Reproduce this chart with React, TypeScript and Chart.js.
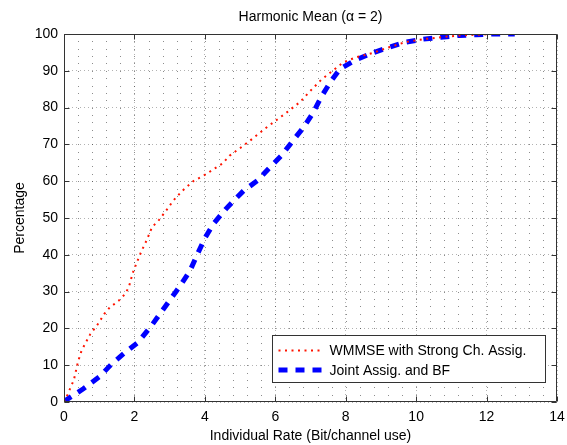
import React, { useEffect, useRef } from "react";
import { Chart, registerables } from "chart.js";

Chart.register(...registerables);

const TITLE = "Harmonic Mean (\u03B1 = 2)";
const X_LABEL = "Individual Rate (Bit/channel use)";
const Y_LABEL = "Percentage";
const SERIES_NAMES = ["WMMSE with Strong Ch. Assig.", "Joint Assig. and BF"];

const X_MAJOR = [0, 2, 4, 6, 8, 10, 12, 14];
const Y_MAJOR = [0, 10, 20, 30, 40, 50, 60, 70, 80, 90, 100];

const wmmseX = [0, 0.1, 0.28, 0.4, 0.5, 0.75, 0.95, 1.15, 1.3, 1.55, 1.75, 1.85, 1.95, 2.05, 2.2, 2.35, 2.5, 2.7, 2.9, 3.1, 3.35, 3.67, 4.05, 4.25, 4.5, 4.7, 5.0, 5.28, 5.75, 6.3, 6.7, 7.0, 7.3, 7.6, 7.93, 8.3, 8.75, 9.2, 9.7, 10.2, 10.7, 11.2, 11.7, 12.2, 12.6];
const wmmseY = [0, 2, 6, 11, 14, 18.5, 21, 24, 25.7, 27.5, 29.5, 31.5, 35, 37.5, 41, 44, 47.5, 49.5, 52, 54.7, 57.3, 60, 62, 63.3, 64.8, 66.9, 69, 71, 74.6, 78.5, 81.5, 84.6, 87.5, 89.8, 92.3, 93.7, 94.8, 96.3, 97.8, 98.6, 99.1, 99.6, 99.8, 100, 100];

const jointX = [0, 0.1, 0.55, 1.0, 1.36, 1.74, 2.1, 2.45, 2.73, 3.0, 3.3, 3.58, 3.78, 4.0, 4.25, 4.6, 4.85, 5.1, 5.5, 5.85, 6.18, 6.5, 6.8, 7.08, 7.3, 7.56, 7.84, 8.27, 8.74, 9.2, 9.7, 10.2, 10.7, 11.2, 11.7, 12.2, 12.8];
const jointY = [0, 0.8, 3.6, 6.8, 10.4, 13.5, 16.2, 20.3, 24, 27.6, 31.6, 35.7, 40, 44.5, 48.5, 52.5, 55, 57.4, 60.2, 63.8, 67, 71, 74.6, 78.7, 82.8, 86.9, 90.5, 92.9, 94.8, 96.3, 97.8, 98.6, 99.1, 99.6, 99.8, 100, 100];

const FONT = "'Liberation Sans', Arial, Helvetica, sans-serif";

const isMajor = (v: number, majors: number[]) => majors.some((m) => Math.abs(m - v) < 1e-6);

const latticePlugin = {
  id: "lattice",
  beforeDatasetsDraw(chart: any) {
    const { ctx, chartArea, scales } = chart;
    const xs = scales.x;
    const ys = scales.y;
    ctx.save();
    ctx.fillStyle = "rgba(0,0,0,0.45)";
    xs.ticks.forEach((xt: any) => {
      const px = Math.round(xs.getPixelForValue(xt.value));
      if (px <= chartArea.left + 1 || px >= chartArea.right - 1) return;
      ys.ticks.forEach((yt: any) => {
        const py = Math.round(ys.getPixelForValue(yt.value));
        if (py <= chartArea.top + 1 || py >= chartArea.bottom - 1) return;
        ctx.fillRect(px, py, 1, 1);
      });
    });
    ctx.restore();
  },
};

const framePlugin = {
  id: "frame",
  afterDraw(chart: any) {
    const { ctx, chartArea, scales } = chart;
    const { left, right, top, bottom } = chartArea;
    const xs = scales.x;
    const ys = scales.y;
    ctx.save();
    ctx.strokeStyle = "#333";
    ctx.lineWidth = 1;
    ctx.setLineDash([]);
    ctx.beginPath();
    const L = Math.round(left) + 0.5;
    const R = Math.round(right) - 0.5;
    const T = Math.round(top) + 0.5;
    const B = Math.round(bottom) - 0.5;
    ctx.rect(L, T, R - L, B - T);
    const tl = 5;
    X_MAJOR.forEach((v) => {
      const px = Math.round(xs.getPixelForValue(v)) + 0.5;
      ctx.moveTo(px, B);
      ctx.lineTo(px, B - tl);
      ctx.moveTo(px, T);
      ctx.lineTo(px, T + tl);
    });
    Y_MAJOR.forEach((v) => {
      const py = Math.round(ys.getPixelForValue(v)) + 0.5;
      ctx.moveTo(L, py);
      ctx.lineTo(L + tl, py);
      ctx.moveTo(R, py);
      ctx.lineTo(R - tl, py);
    });
    ctx.stroke();

    // legend
    const boxW = 273;
    const boxH = 47;
    const bx = Math.round(right - 12 - boxW) + 0.5;
    const by = Math.round(bottom - 20 - boxH) + 0.5;
    ctx.fillStyle = "#fff";
    ctx.fillRect(bx, by, boxW, boxH);
    ctx.strokeStyle = "#333";
    ctx.lineWidth = 1;
    ctx.strokeRect(bx, by, boxW, boxH);
    ctx.font = `14px ${FONT}`;
    ctx.textBaseline = "middle";
    ctx.textAlign = "left";
    chart.data.datasets.forEach((ds: any, i: number) => {
      const cy = by + 15 + i * 19.5;
      ctx.save();
      ctx.strokeStyle = ds.borderColor;
      ctx.lineWidth = ds.borderWidth;
      ctx.setLineDash(ds.borderDash || []);
      ctx.lineCap = "butt";
      ctx.beginPath();
      ctx.moveTo(bx + 6, cy);
      ctx.lineTo(bx + 50, cy);
      ctx.stroke();
      ctx.restore();
      ctx.fillStyle = "#000";
      ctx.fillText(ds.label, bx + 57, cy + 1);
    });
    ctx.restore();
  },
};

const gridColor = (majors: number[]) => (c: any) =>
  c.tick && isMajor(Number(c.tick.value), majors) ? "rgba(0,0,0,0.3)" : "rgba(0,0,0,0)";

export default function App() {
  const ref = useRef<HTMLCanvasElement | null>(null);
  useEffect(() => {
    if (!ref.current) return;
    Chart.defaults.font.family = FONT;
    Chart.defaults.font.size = 14;
    Chart.defaults.color = "#000";
    const chart = new Chart(ref.current, {
      type: "scatter",
      data: {
        datasets: [
          {
            label: SERIES_NAMES[0],
            data: wmmseX.map((x, i) => ({ x, y: wmmseY[i] })),
            showLine: true,
            borderColor: "rgb(255,20,0)",
            backgroundColor: "rgb(255,20,0)",
            borderWidth: 2,
            borderDash: [2, 4.5],
            pointRadius: 0,
            tension: 0,
          },
          {
            label: SERIES_NAMES[1],
            data: jointX.map((x, i) => ({ x, y: jointY[i] })),
            showLine: true,
            borderColor: "rgb(0,0,255)",
            backgroundColor: "rgb(0,0,255)",
            borderWidth: 5,
            borderDash: [9, 8],
            pointRadius: 0,
            tension: 0,
          },
        ],
      },
      options: {
        responsive: false,
        animation: false,
        layout: { padding: { left: 0, right: 10, top: 0, bottom: 0 } },
        plugins: {
          legend: { display: false },
          tooltip: { enabled: false },
          title: {
            display: true,
            text: TITLE,
            fullSize: false,
            font: { size: 14, weight: "normal", family: FONT },
            color: "#000",
            padding: { top: 8.6, bottom: 8.6 },
          },
        },
        scales: {
          x: {
            type: "linear",
            min: 0,
            max: 14,
            afterFit: (s: any) => {
              s.height = 43;
            },
            ticks: {
              stepSize: 0.4,
              autoSkip: false,
              maxRotation: 0,
              padding: 0,
              color: "#000",
              font: { size: 14, family: FONT },
              callback: (v: any) => (isMajor(Number(v), X_MAJOR) ? String(Math.round(Number(v))) : ""),
            },
            grid: {
              color: gridColor(X_MAJOR),
              lineWidth: 1,
              drawTicks: true,
              tickLength: 7,
              tickColor: "rgba(0,0,0,0)",
            },
            border: { display: false, dash: [1, 3] },
            title: {
              display: true,
              text: X_LABEL,
              color: "#000",
              font: { size: 14, family: FONT },
              padding: { top: 0, bottom: 0.6 },
            },
          },
          y: {
            type: "linear",
            min: 0,
            max: 100,
            afterFit: (s: any) => {
              s.width = 64;
            },
            ticks: {
              stepSize: 2,
              autoSkip: false,
              padding: 0,
              color: "#000",
              font: { size: 14, family: FONT },
              callback: (v: any) => (isMajor(Number(v), Y_MAJOR) ? String(Math.round(Number(v))) : ""),
            },
            grid: {
              color: gridColor(Y_MAJOR),
              lineWidth: 1,
              drawTicks: true,
              tickLength: 6,
              tickColor: "rgba(0,0,0,0)",
            },
            border: { display: false, dash: [1, 3] },
            title: {
              display: true,
              text: Y_LABEL,
              color: "#000",
              font: { size: 14, family: FONT },
              padding: { top: 11.6, bottom: 0 },
            },
          },
        },
      },
      plugins: [latticePlugin, framePlugin],
    } as any);
    return () => chart.destroy();
  }, []);
  return (
    <div style={{ position: "fixed", left: 0, top: 0, width: 567, height: 445, background: "#fff" }}>
      <canvas ref={ref} width={567} height={445} style={{ display: "block" }} />
    </div>
  );
}
